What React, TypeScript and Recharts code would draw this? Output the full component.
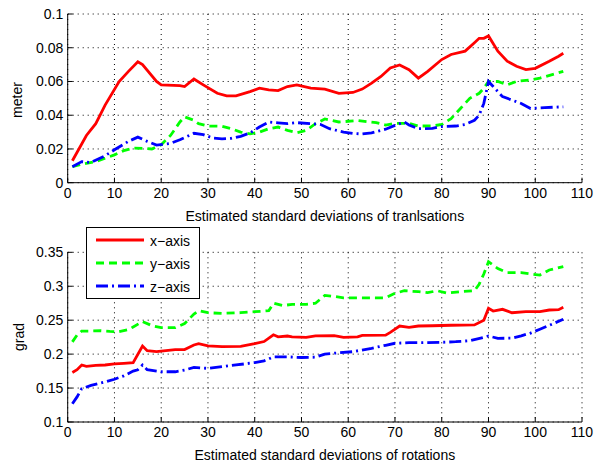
import React from "react"
import { LineChart, Line, XAxis, YAxis, CartesianGrid } from "recharts"

// translations (meter)
const transXKeys = [1, 4, 6, 8, 11, 13, 15, 16, 19, 20, 24, 25, 27, 29, 32, 34, 36, 39, 41, 43, 45, 47, 49, 52, 55, 58, 61, 63, 65, 67, 69, 71, 73, 75, 77, 80, 82, 85, 87, 88, 89, 90, 92, 94, 96, 98, 100, 103, 105, 106]
const transX = [0.013, 0.028, 0.035, 0.046, 0.06, 0.066, 0.0717, 0.07, 0.06, 0.058, 0.0575, 0.057, 0.0615, 0.058, 0.053, 0.0515, 0.0515, 0.054, 0.056, 0.055, 0.0546, 0.057, 0.058, 0.056, 0.0555, 0.053, 0.0535, 0.0555, 0.059, 0.063, 0.068, 0.0698, 0.067, 0.062, 0.066, 0.073, 0.076, 0.078, 0.083, 0.0856, 0.0856, 0.087, 0.078, 0.072, 0.069, 0.067, 0.0678, 0.072, 0.075, 0.0767]

const transYKeys = [1, 3, 6, 8, 10, 12, 14, 16, 18, 20, 22, 24, 25, 27, 28, 30, 33, 35, 37, 39, 41, 43, 45, 47, 49, 51, 53, 55, 58, 62, 66, 68, 70, 73, 75, 78, 80, 82, 84, 86, 88, 89, 90, 92, 94, 96, 99, 101, 104, 106]
const transY = [0.0095, 0.011, 0.0125, 0.0145, 0.0165, 0.019, 0.0205, 0.0204, 0.02, 0.0225, 0.028, 0.036, 0.039, 0.037, 0.035, 0.0336, 0.0335, 0.032, 0.03, 0.029, 0.03, 0.032, 0.033, 0.031, 0.0296, 0.031, 0.035, 0.0378, 0.036, 0.0368, 0.0356, 0.0342, 0.0352, 0.0352, 0.0336, 0.0336, 0.0345, 0.038, 0.044, 0.05, 0.053, 0.056, 0.06, 0.06, 0.058, 0.06, 0.061, 0.062, 0.0644, 0.066]

const transZKeys = [1, 3, 5, 8, 10, 13, 15, 17, 19, 22, 24, 27, 29, 31, 33, 35, 37, 39, 41, 43, 45, 47, 49, 52, 54, 56, 59, 61, 63, 65, 68, 70, 72, 73, 75, 78, 80, 83, 85, 87, 88, 89, 90, 91, 93, 95, 97, 99, 102, 106]
const transZ = [0.0095, 0.0125, 0.012, 0.016, 0.0195, 0.0245, 0.027, 0.0245, 0.0223, 0.0233, 0.0255, 0.0293, 0.0285, 0.0265, 0.026, 0.0263, 0.0275, 0.0295, 0.033, 0.036, 0.0355, 0.035, 0.0356, 0.035, 0.0346, 0.032, 0.03, 0.0292, 0.0289, 0.0295, 0.0317, 0.034, 0.036, 0.0342, 0.032, 0.0322, 0.0333, 0.0336, 0.0345, 0.037, 0.04, 0.047, 0.06, 0.057, 0.051, 0.049, 0.047, 0.044, 0.0445, 0.045]

// rotations (grad)
const rotXKeys = [1, 2, 3, 4, 6, 8, 10, 12, 14, 16, 17, 19, 21, 23, 25, 27, 28, 30, 33, 37, 40, 42, 44, 45, 47, 48, 51, 53, 57, 59, 62, 63, 68, 69, 71, 73, 75, 78, 82, 87, 89, 90, 91, 93, 95, 98, 101, 103, 105, 106]
const rotX = [0.173, 0.177, 0.184, 0.182, 0.1835, 0.184, 0.1855, 0.1865, 0.1875, 0.212, 0.205, 0.2036, 0.205, 0.2065, 0.2068, 0.2134, 0.2155, 0.212, 0.211, 0.2115, 0.2155, 0.2185, 0.2285, 0.2255, 0.2267, 0.2255, 0.2248, 0.2268, 0.2272, 0.2248, 0.2255, 0.2277, 0.228, 0.232, 0.2414, 0.2395, 0.2414, 0.2418, 0.2425, 0.243, 0.25, 0.2675, 0.2635, 0.266, 0.261, 0.2625, 0.2625, 0.265, 0.2655, 0.269]

const rotYKeys = [1, 2, 3, 5, 7, 9, 11, 13, 14, 16, 18, 20, 23, 25, 27, 28, 30, 33, 37, 40, 43, 44, 46, 48, 51, 53, 55, 57, 59, 64, 68, 70, 72, 75, 77, 79, 81, 84, 87, 88, 89, 90, 92, 94, 97, 99, 101, 103, 106]
const rotY = [0.218, 0.228, 0.234, 0.234, 0.2345, 0.2335, 0.233, 0.236, 0.24, 0.248, 0.242, 0.239, 0.239, 0.245, 0.259, 0.264, 0.261, 0.26, 0.261, 0.2625, 0.264, 0.275, 0.2715, 0.2734, 0.2734, 0.275, 0.2865, 0.285, 0.283, 0.283, 0.283, 0.2896, 0.2934, 0.292, 0.2905, 0.2934, 0.29, 0.292, 0.2934, 0.303, 0.318, 0.336, 0.326, 0.32, 0.32, 0.318, 0.3165, 0.324, 0.329]

const rotZKeys = [1, 2, 3, 5, 8, 10, 12, 14, 15, 16, 17, 20, 23, 25, 27, 30, 33, 36, 40, 42, 44, 47, 50, 53, 55, 58, 61, 65, 68, 70, 73, 76, 80, 83, 86, 89, 90, 92, 95, 97, 99, 101, 104, 106]
const rotZ = [0.127, 0.137, 0.149, 0.154, 0.159, 0.163, 0.168, 0.175, 0.177, 0.184, 0.177, 0.174, 0.174, 0.1765, 0.1805, 0.179, 0.1815, 0.184, 0.1875, 0.19, 0.196, 0.196, 0.195, 0.1955, 0.2, 0.202, 0.2036, 0.2086, 0.213, 0.216, 0.2168, 0.2168, 0.2174, 0.2183, 0.2198, 0.2248, 0.2267, 0.2233, 0.2235, 0.227, 0.231, 0.2366, 0.2454, 0.2513]

const xTicks = [0, 10, 20, 30, 40, 50, 60, 70, 80, 90, 100, 110]
const transTicks = [0, 0.02, 0.04, 0.06, 0.08, 0.1]
const rotTicks = [0.1, 0.15, 0.2, 0.25, 0.3, 0.35]

const FONT = "'Liberation Sans', Arial, sans-serif"
const RED = "#ff0000"
const GREEN = "#00ff00"
const BLUE = "#0000ff"
const DASH = "8 5"
const DASHDOT = "12 4 2 4"

type Series = { key: string; xs: number[]; ys: number[] }

// merge per-series points into one table keyed by step
function buildTable(series: Series[]) {
  const rows = new Map<number, Record<string, number>>()
  series.forEach((s) => {
    s.xs.forEach((x, i) => {
      const row = rows.get(x) ?? { step: x }
      row[s.key] = s.ys[i]
      rows.set(x, row)
    })
  })
  return [...rows.values()].sort((a, b) => a.step - b.step)
}

const transData = buildTable([
  { key: "xAxis", xs: transXKeys, ys: transX },
  { key: "yAxis", xs: transYKeys, ys: transY },
  { key: "zAxis", xs: transZKeys, ys: transZ },
])

const rotData = buildTable([
  { key: "xAxis", xs: rotXKeys, ys: rotX },
  { key: "yAxis", xs: rotYKeys, ys: rotY },
  { key: "zAxis", xs: rotZKeys, ys: rotZ },
])

const tickStyle = { fill: "#000", fontSize: 14, fontFamily: FONT }
const blank = () => ""

interface PanelProps {
  data: Record<string, number>[]
  height: number
  top: number
  yTicks: number[]
  yDomain: [number, number]
  xHeight: number
  xLabel: string
  xLabelOffset: number
}

function Panel({ data, height, top, yTicks, yDomain, xHeight, xLabel, xLabelOffset }: PanelProps) {
  return (
    <LineChart
      width={598}
      height={height}
      data={data}
      margin={{ top, right: 16, left: 7.7, bottom: 0 }}
      style={{ fontFamily: FONT }}
    >
      <CartesianGrid stroke="#000" strokeDasharray="1 4" />
      <XAxis
        dataKey="step"
        type="number"
        domain={[0, 110]}
        ticks={xTicks}
        interval={0}
        height={xHeight}
        stroke="#000"
        tickSize={-5}
        tickMargin={10.5}
        tick={tickStyle}
        label={{ value: xLabel, position: "insideBottom", offset: xLabelOffset, fill: "#000", fontSize: 14, fontFamily: FONT }}
      />
      <XAxis
        xAxisId="top"
        dataKey="step"
        orientation="top"
        type="number"
        domain={[0, 110]}
        ticks={xTicks}
        interval={0}
        height={0}
        stroke="#000"
        tickSize={-5}
        tickFormatter={blank}
      />
      <YAxis
        type="number"
        domain={yDomain}
        ticks={yTicks}
        interval={0}
        allowDataOverflow
        width={60}
        stroke="#000"
        tickSize={-5}
        tickMargin={9.4}
        tick={tickStyle}
      />
      <YAxis
        yAxisId="right"
        orientation="right"
        type="number"
        domain={yDomain}
        ticks={yTicks}
        interval={0}
        allowDataOverflow
        width={0}
        stroke="#000"
        tickSize={-5}
        tickFormatter={blank}
      />
      <Line type="linear" dataKey="xAxis" stroke={RED} strokeWidth={2.8} dot={false} connectNulls isAnimationActive={false} />
      <Line type="linear" dataKey="yAxis" stroke={GREEN} strokeWidth={2.8} strokeDasharray={DASH} dot={false} connectNulls isAnimationActive={false} />
      <Line type="linear" dataKey="zAxis" stroke={BLUE} strokeWidth={2.8} strokeDasharray={DASHDOT} dot={false} connectNulls isAnimationActive={false} />
    </LineChart>
  )
}

const yTitle: React.CSSProperties = {
  position: "absolute",
  transform: "translate(-50%, -50%) rotate(-90deg)",
  fontFamily: FONT,
  fontSize: 14,
  color: "#000",
  whiteSpace: "nowrap",
  lineHeight: 1,
}

const legendRows = [
  { label: "x\u2212axis", color: RED, dash: undefined },
  { label: "y\u2212axis", color: GREEN, dash: DASH },
  { label: "z\u2212axis", color: BLUE, dash: DASHDOT },
]

export default function App() {
  return (
    <div style={{ position: "absolute", left: 0, top: 0, width: 598, height: 465, background: "#fff", overflow: "hidden" }}>
      <div style={{ position: "absolute", left: 0, top: 0 }}>
        <Panel
          data={transData}
          height={230}
          top={14}
          yTicks={transTicks}
          yDomain={[0, 0.1]}
          xHeight={47.3}
          xLabel="Estimated standard deviations of tranlsations"
          xLabelOffset={9}
        />
      </div>
      <div style={{ position: "absolute", left: 0, top: 220 }}>
        <Panel
          data={rotData}
          height={245}
          top={32.3}
          yTicks={rotTicks}
          yDomain={[0.1, 0.35]}
          xHeight={43}
          xLabel="Estimated standard deviations of rotations"
          xLabelOffset={5}
        />
      </div>
      <div style={{ ...yTitle, left: 17, top: 100 }}>meter</div>
      <div style={{ ...yTitle, left: 19, top: 337 }}>grad</div>
      <svg
        width={114}
        height={72}
        style={{ position: "absolute", left: 86, top: 227, background: "#fff" }}
      >
        <rect x={0.5} y={0.5} width={113} height={71} fill="#fff" stroke="#000" strokeWidth={1} />
        {legendRows.map((r, i) => (
          <g key={r.label}>
            <line x1={10} x2={58} y1={13 + i * 23} y2={13 + i * 23} stroke={r.color} strokeWidth={2.8} strokeDasharray={r.dash} />
            <text x={64} y={19 + i * 23} fontSize={14} fontFamily={FONT} fill="#000">
              {r.label}
            </text>
          </g>
        ))}
      </svg>
    </div>
  )
}
